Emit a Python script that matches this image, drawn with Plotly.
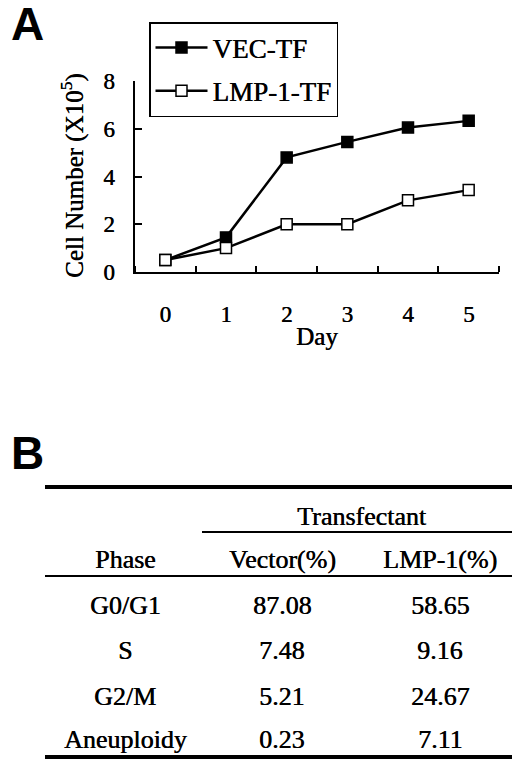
import plotly.graph_objects as go

# the page body keeps an 8px margin inside the 520x762 window
PAD = 8
W, H = 520 - PAD, 762 - PAD

# Panel A data: cell number (x10^5) per day
days = [0, 1, 2, 3, 4, 5]
day_labels = ["0", "1", "2", "3", "4", "5"]
vec_tf = [0.5, 1.45, 4.8, 5.45, 6.05, 6.33]
lmp1_tf = [0.5, 1.0, 2.0, 2.0, 3.0, 3.43]
y_ticks = [0, 2, 4, 6, 8]

# Panel B data: cell cycle phase distribution
phases = ["G0/G1", "S", "G2/M", "Aneuploidy"]
vector_pct = ["87.08", "7.48", "5.21", "0.23"]
lmp1_pct = ["58.65", "9.16", "24.67", "7.11"]
table_header = ["Phase", "Vector(%)", "LMP-1(%)"]

SERIF = "Liberation Serif, Times New Roman, serif"
SANS = "Liberation Sans, Arial, sans-serif"
INK = "0.5px 0px 0px black"  # thickens the thin serif a bit, like the scan


# window pixel -> paper fraction
def fx(x):
    return (x - PAD) / W


def fy(y):
    return 1 - (y - PAD) / H


def serif(size):
    return dict(family=SERIF, size=size, color="black", shadow=INK)


fig = go.Figure()

fig.add_trace(go.Scatter(
    x=days, y=vec_tf, mode="lines+markers", name="VEC-TF",
    line=dict(color="black", width=2.5),
    marker=dict(symbol="square", size=11, color="black", line=dict(color="black", width=1.5)),
    legendgroup="a"))
fig.add_trace(go.Scatter(
    x=days, y=lmp1_tf, mode="lines+markers", name="LMP-1-TF",
    line=dict(color="black", width=2.5),
    marker=dict(symbol="square", size=11, color="white", line=dict(color="black", width=1.5)),
    legendgroup="b"))

fig.update_xaxes(
    domain=[fx(135), fx(499)], range=[-0.5, 5.5], automargin=False,
    showline=True, linecolor="black", linewidth=1.5,
    showgrid=False, zeroline=False,
    tickvals=days, ticktext=day_labels, ticks="",
    ticklabelstandoff=21,
    tickfont=serif(23),
    minor=dict(tickvals=[d - 0.5 for d in days] + [5.5], ticks="inside",
               ticklen=6, tickwidth=1.5, tickcolor="black", showgrid=False),
)
fig.update_yaxes(
    domain=[fy(272), fy(81)], range=[0, 8], automargin=False,
    showline=True, linecolor="black", linewidth=1.5,
    showgrid=False, zeroline=False,
    tickvals=y_ticks, ticks="inside", ticklen=7, tickwidth=1.5, tickcolor="black",
    ticklabelstandoff=14,
    tickfont=serif(23),
)

annotations = [
    dict(text="<b>A</b>", x=fx(9), y=fy(24), xanchor="left", yanchor="middle",
         font=dict(family=SANS, size=46, color="black")),
    dict(text="<b>B</b>", x=fx(9), y=fy(453), xanchor="left", yanchor="middle",
         font=dict(family=SANS, size=46, color="black")),
    dict(text="Day", x=fx(317), y=fy(337), xanchor="center", yanchor="middle",
         font=serif(25)),
    dict(text="Cell Number (X10<sup>5</sup>)", x=fx(72), y=fy(176), textangle=-90,
         xanchor="center", yanchor="middle", font=serif(25)),
    dict(text="Transfectant", x=fx(362), y=fy(516), xanchor="center", yanchor="middle",
         font=serif(26)),
]

col_x = [125, 282, 440]
for cx, label in zip(col_x, table_header):
    annotations.append(dict(text=label, x=fx(cx), y=fy(559), xanchor="center", yanchor="middle",
                            font=serif(26)))

row_y = [605, 650, 696, 739]
for ry, ph, v, l in zip(row_y, phases, vector_pct, lmp1_pct):
    for cx, val in zip(col_x, [ph, v, l]):
        annotations.append(dict(text=val, x=fx(cx), y=fy(ry), xanchor="center", yanchor="middle",
                                font=serif(26)))

for a in annotations:
    a.update(xref="paper", yref="paper", showarrow=False)

rules = [
    (45, 517, 487, 4),
    (202, 517, 532, 2),
    (45, 517, 576, 2),
    (45, 517, 757, 4),
]
fig.update_layout(shapes=[
    dict(type="line", xref="paper", yref="paper", x0=fx(x0), x1=fx(x1), y0=fy(y), y1=fy(y),
         line=dict(color="black", width=w)) for x0, x1, y, w in rules
])

fig.update_layout(
    width=W, height=H,
    margin=dict(l=0, r=0, t=0, b=0, autoexpand=False),
    paper_bgcolor="white", plot_bgcolor="white",
    annotations=annotations,
    showlegend=True,
    legend=dict(
        x=fx(149), y=fy(22), xanchor="left", yanchor="top",
        bordercolor="black", borderwidth=1.5, bgcolor="white",
        font=serif(27),
        tracegroupgap=5, itemwidth=52,
    ),
)

fig.write_html("out.html")
